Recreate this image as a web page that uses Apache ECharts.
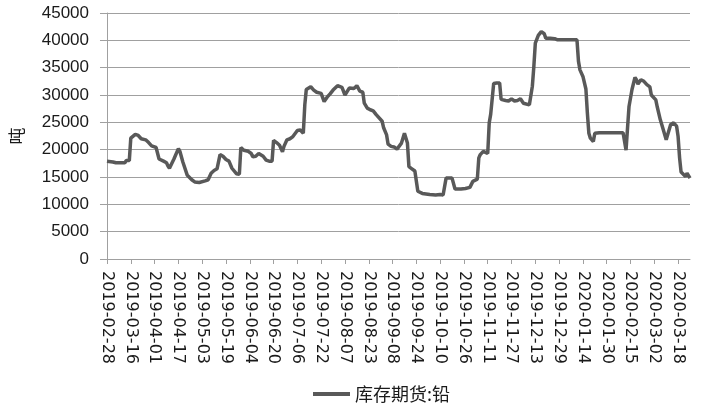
<!DOCTYPE html>
<html>
<head>
<meta charset="utf-8">
<script src="https://cdn.jsdelivr.net/npm/echarts@6/dist/echarts.min.js"></script>
<style>
html,body{margin:0;padding:0;background:#fff;}
#chart{width:716px;height:413px;}
</style>
</head>
<body>
<div id="chart"></div>
<script>
// Axis range (calendar days shown on the category axis)
var startDate = '2019-02-28';
var endDate = '2020-03-26';
var seriesName = '库存期货:铅';
var yAxisName = '吨';
var yMin = 0, yMax = 45000, yInterval = 5000;

var obsDates = [
'2019-02-28','2019-03-04','2019-03-06','2019-03-12','2019-03-13','2019-03-15','2019-03-16','2019-03-19','2019-03-21','2019-03-23',
'2019-03-26','2019-03-28','2019-03-30','2019-04-02','2019-04-03','2019-04-04','2019-04-07','2019-04-09','2019-04-10','2019-04-11',
'2019-04-14','2019-04-17','2019-04-18','2019-04-20','2019-04-23','2019-04-26','2019-04-28','2019-05-01','2019-05-05','2019-05-07',
'2019-05-08','2019-05-09','2019-05-11','2019-05-13','2019-05-15','2019-05-17','2019-05-19','2019-05-21','2019-05-23','2019-05-26',
'2019-05-28','2019-05-29','2019-05-31','2019-06-03','2019-06-05','2019-06-06','2019-06-08','2019-06-10','2019-06-13','2019-06-15',
'2019-06-17','2019-06-19','2019-06-20','2019-06-22','2019-06-24','2019-06-26','2019-06-27','2019-06-29','2019-07-01','2019-07-03',
'2019-07-04','2019-07-06','2019-07-08','2019-07-09','2019-07-10','2019-07-11','2019-07-12','2019-07-15','2019-07-17','2019-07-19',
'2019-07-22','2019-07-24','2019-07-26','2019-07-28','2019-07-30','2019-07-31','2019-08-02','2019-08-05','2019-08-07','2019-08-10',
'2019-08-13','2019-08-15','2019-08-17','2019-08-19','2019-08-20','2019-08-22','2019-08-24','2019-08-26','2019-08-28','2019-08-29',
'2019-09-01','2019-09-02','2019-09-04','2019-09-05','2019-09-07','2019-09-09','2019-09-11','2019-09-14','2019-09-16','2019-09-17',
'2019-09-18','2019-09-19','2019-09-21','2019-09-23','2019-09-25','2019-09-28','2019-10-03','2019-10-07','2019-10-10','2019-10-12',
'2019-10-14','2019-10-18','2019-10-20','2019-10-24','2019-10-27','2019-10-30','2019-11-01','2019-11-02','2019-11-04','2019-11-05',
'2019-11-06','2019-11-08','2019-11-11','2019-11-12','2019-11-13','2019-11-15','2019-11-17','2019-11-19','2019-11-20','2019-11-23',
'2019-11-25','2019-11-27','2019-11-29','2019-12-01','2019-12-03','2019-12-05','2019-12-06','2019-12-09','2019-12-11','2019-12-12',
'2019-12-13','2019-12-15','2019-12-17','2019-12-19','2019-12-20','2019-12-23','2019-12-26','2019-12-28','2020-01-10','2020-01-11',
'2020-01-12','2020-01-14','2020-01-16','2020-01-17','2020-01-18','2020-01-19','2020-01-21','2020-01-22','2020-01-25','2020-02-10',
'2020-02-12','2020-02-13','2020-02-14','2020-02-16','2020-02-18','2020-02-19','2020-02-20','2020-02-22','2020-02-24','2020-02-26',
'2020-02-28','2020-02-29','2020-03-03','2020-03-04','2020-03-06','2020-03-07','2020-03-08','2020-03-10','2020-03-11','2020-03-13',
'2020-03-15','2020-03-16','2020-03-17','2020-03-18','2020-03-19','2020-03-20','2020-03-23','2020-03-24','2020-03-26'
];
var obsValues = [
17900,17750,17600,17600,18000,18000,22100,22800,22600,22000,
21800,21300,20700,20400,20200,18300,17900,17600,17000,16600,
18300,20200,19700,17750,15300,14500,14100,14000,14300,14500,
14700,15700,16200,16500,19100,18800,18200,17900,16600,15600,
15500,20400,19900,19700,19300,18700,18800,19300,18800,18100,
17900,17900,21700,21300,20800,19600,20600,21800,22000,22400,
22600,23500,23600,23500,23000,28200,31000,31500,30900,30500,
30300,28800,29600,30200,30900,31000,31700,31400,30000,31300,
31200,31700,30700,30500,28500,27600,27300,27100,26400,26100,
25200,24000,22700,21000,20600,20500,20100,21200,23000,23100,
21200,16900,16500,16100,12400,12000,11800,11700,11800,11700,
14800,14800,12800,12800,12900,13100,14200,14500,14600,18500,
19100,19700,19300,24900,26500,32100,32200,32200,29200,29000,
28900,29300,28900,29000,29300,28500,28400,28200,31600,35200,
39500,40900,41600,41200,40400,40400,40300,40100,40100,36200,
34600,33400,31100,26700,23000,22100,21500,23000,23100,23100,
19900,24000,27900,31000,33200,32800,32000,32800,32500,31900,
31500,30000,29100,27800,25500,25200,23700,21800,21500,24600,
24900,24900,24300,22400,18500,15900,15100,15700,14800
];

function fmt(d){
  var m = d.getUTCMonth()+1, day = d.getUTCDate();
  return d.getUTCFullYear()+'-'+(m<10?'0':'')+m+'-'+(day<10?'0':'')+day;
}
var categories = [];
(function(){
  var d = new Date(startDate+'T00:00:00Z'), e = new Date(endDate+'T00:00:00Z');
  while (d <= e) { categories.push(fmt(d)); d = new Date(d.getTime()+86400000); }
})();
var idx = {};
categories.forEach(function(c,i){ idx[c]=i; });
var seriesData = categories.map(function(){ return null; });
obsDates.forEach(function(dt,i){ seriesData[idx[dt]] = obsValues[i]; });

var chart = echarts.init(document.getElementById('chart'), null, {renderer:'canvas'});
chart.setOption({
  animation: false,
  backgroundColor: '#ffffff',
  grid: {left: 104, right: 26, top: 13, bottom: 154, containLabel: false},
  legend: {
    data: [seriesName],
    left: 313, top: 385,
    padding: 0,
    icon: 'rect',
    itemWidth: 37, itemHeight: 4,
    itemGap: 10,
    textStyle: {fontFamily: 'Noto Sans CJK SC', fontSize: 18, color: '#1a1a1a'}
  },
  xAxis: {
    type: 'category',
    data: categories,
    boundaryGap: false,
    axisLine: {lineStyle: {color: '#a0a0a0', width: 1}},
    axisTick: {show: true, interval: 15, length: 5, lineStyle: {color: '#a0a0a0'}},
    axisLabel: {interval: 15, rotate: -90, margin: 12, fontFamily: 'DejaVu Sans', fontSize: 16, color: '#1a1a1a'},
    splitLine: {show: false}
  },
  yAxis: {
    type: 'value',
    min: yMin, max: yMax, interval: yInterval,
    name: yAxisName,
    nameLocation: 'middle',
    nameRotate: 90,
    nameGap: 82,
    nameTextStyle: {fontFamily: 'Noto Sans CJK SC', fontSize: 17, color: '#1a1a1a'},
    axisLine: {show: true, lineStyle: {color: '#a0a0a0', width: 1}},
    axisTick: {show: true, length: 7, lineStyle: {color: '#a0a0a0'}},
    axisLabel: {margin: 18, fontFamily: 'Liberation Sans', fontSize: 17, color: '#1a1a1a',
      formatter: function(v){ return String(v); }},
    splitLine: {show: true, lineStyle: {color: '#a0a0a0', width: 1}}
  },
  series: [{
    name: seriesName,
    type: 'line',
    data: seriesData,
    connectNulls: true,
    showSymbol: false,
    symbol: 'none',
    lineStyle: {color: '#595959', width: 3.5},
    itemStyle: {color: '#595959'}
  }]
});
</script>
</body>
</html>
